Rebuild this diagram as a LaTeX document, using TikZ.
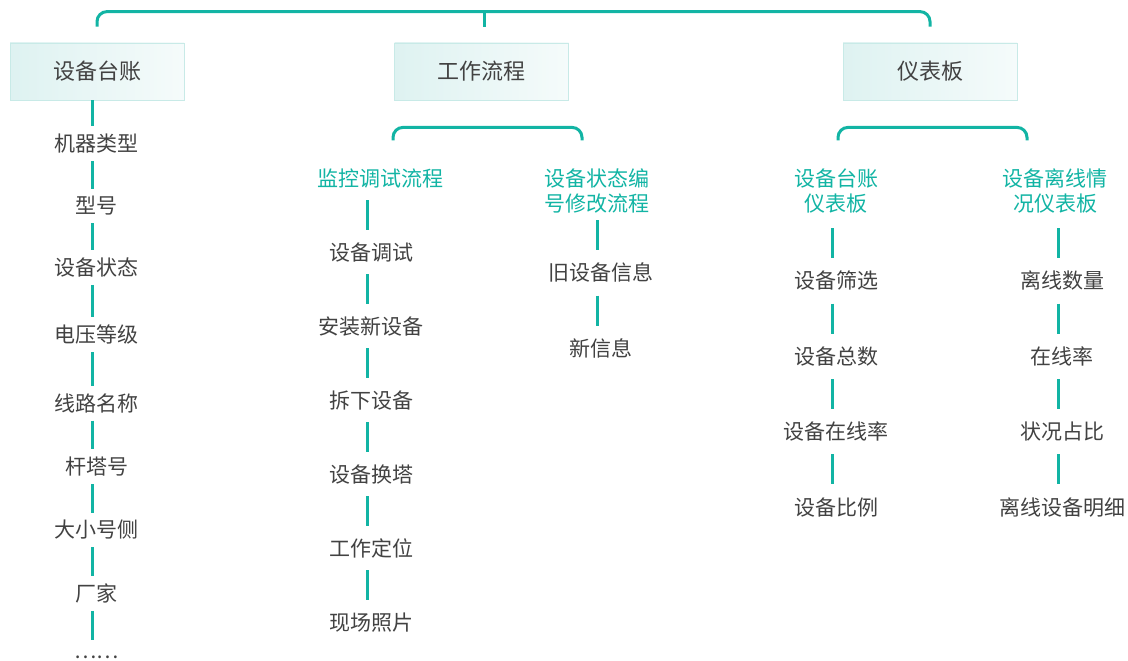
\documentclass[tikz,border=0pt]{standalone}
\usepackage{fontspec}
\setmainfont{Noto Sans CJK SC}
\usetikzlibrary{positioning}
\definecolor{linkteal}{RGB}{18,180,164}
\definecolor{boxfill}{RGB}{222,242,241}
\definecolor{boxline}{RGB}{200,234,231}
\definecolor{inkgray}{RGB}{66,66,66}

\begin{document}
\begin{tikzpicture}[x=1pt, y=1pt, node distance=30pt]
      \tikzstyle{groupbox}=[rectangle,draw=boxline,line width=0.8pt,left color=boxfill,right color=boxfill!30,minimum width=174pt,minimum height=57pt,text=inkgray,font=\fontsize{22}{26}\selectfont]
      \tikzstyle{subhead}=[align=center,inner sep=0pt,text=linkteal,font=\fontsize{21}{25}\selectfont]
      \tikzstyle{leafA}=[inner sep=0pt,minimum height=34.4pt,text=inkgray,font=\fontsize{21}{25}\selectfont]
      \tikzstyle{leafB}=[leafA,minimum height=43.6pt]
      \tikzstyle{leafC}=[leafA,minimum height=45pt]
      \tikzstyle{link}=[draw=linkteal,line width=3pt]
      \tikzstyle{stemline}=[link,transform canvas={xshift=-4pt}]

      \useasboundingbox (0,0) rectangle (1128,-661);

      % top level
      \node[groupbox] (ledger) at (97,-71.5) {设备台账};
      \node[groupbox] (flow) at (481.5,-71.5) {工作流程};
      \node[groupbox] (dash) at (930,-71.5) {仪表板};

      % second level headers
      \node[subhead,minimum height=44pt] (monitor) at (380,-178) {监控调试流程};
      \node[subhead,minimum height=59pt] (renum) at (597,-190.5) {设备状态编\\号修改流程};
      \node[subhead,minimum height=74pt] (ledgerpanel) at (836,-191) {设备台账\\仪表板};
      \node[subhead,minimum height=74pt] (offline) at (1055,-191) {设备离线情\\况仪表板};

      % ledger fields
      \node[leafA,below=25.8pt of ledger,xshift=-0.5pt] (k1) {机器类型};
      \node[leafA,below=27.6pt of k1] (k2) {型号};
      \node[leafA,below=26.6pt of k2] (k3) {设备状态};
      \node[leafA,below=32.6pt of k3] (k4) {电压等级};
      \node[leafA,below=33.6pt of k4] (k5) {线路名称};
      \node[leafA,below=28.6pt of k5] (k6) {杆塔号};
      \node[leafA,below=28.6pt of k6] (k7) {大小号侧};
      \node[leafA,below=28.6pt of k7] (k8) {厂家};
      \node[leafA,below=29.6pt of k8] (k9) {……};

      % monitoring flow
      \node[leafB,below=of monitor,xshift=-9pt] (w1) {设备调试};
      \node[leafB,below=of w1] (w2) {安装新设备};
      \node[leafB,below=of w2] (w3) {拆下设备};
      \node[leafB,below=of w3] (w4) {设备换塔};
      \node[leafB,below=of w4] (w5) {工作定位};
      \node[leafB,below=of w5] (w6) {现场照片};

      % renumbering flow
      \node[leafC,below=of renum,xshift=4pt] (c1) {旧设备信息};
      \node[leafC,below=of c1] (c2) {新信息};

      % ledger panel
      \node[leafC,below=of ledgerpanel] (p1) {设备筛选};
      \node[leafC,below=of p1] (p2) {设备总数};
      \node[leafC,below=of p2] (p3) {设备在线率};
      \node[leafC,below=of p3] (p4) {设备比例};

      % offline panel
      \node[leafC,below=of offline,xshift=7pt] (o1) {离线数量};
      \node[leafC,below=of o1] (o2) {在线率};
      \node[leafC,below=of o2] (o3) {状况占比};
      \node[leafC,below=of o3] (o4) {离线设备明细};

      % brackets
      \draw[link,rounded corners=10pt] ([yshift=16pt]ledger.north) |- ([yshift=31pt]flow.north) -| ([yshift=16pt]dash.north);
      \draw[link] ([xshift=2.5pt,yshift=16pt]flow.north) -- ([xshift=2.5pt,yshift=31pt]flow.north);
      \draw[link,rounded corners=10pt] ([xshift=-88.5pt,yshift=-40pt]flow.south) |- ([yshift=-27pt]flow.south) -| ([xshift=100.5pt,yshift=-40pt]flow.south);
      \draw[link,rounded corners=10pt] ([xshift=-92pt,yshift=-40pt]dash.south) |- ([yshift=-27pt]dash.south) -| ([xshift=97pt,yshift=-40pt]dash.south);

      % stems
      \draw[stemline] (k1 |- ledger.south) -- (k1);
      \draw[stemline] (k1) -- (k2);
      \draw[stemline] (k2) -- (k3);
      \draw[stemline] (k3) -- (k4);
      \draw[stemline] (k4) -- (k5);
      \draw[stemline] (k5) -- (k6);
      \draw[stemline] (k6) -- (k7);
      \draw[stemline] (k7) -- (k8);
      \draw[stemline] (k8) -- (k9);
      \draw[stemline] (w1 |- monitor.south) -- (w1);
      \draw[stemline] (w1) -- (w2);
      \draw[stemline] (w2) -- (w3);
      \draw[stemline] (w3) -- (w4);
      \draw[stemline] (w4) -- (w5);
      \draw[stemline] (w5) -- (w6);
      \draw[stemline] (c1 |- renum.south) -- (c1);
      \draw[stemline] (c1) -- (c2);
      \draw[stemline] (p1 |- ledgerpanel.south) -- (p1);
      \draw[stemline] (p1) -- (p2);
      \draw[stemline] (p2) -- (p3);
      \draw[stemline] (p3) -- (p4);
      \draw[stemline] (o1 |- offline.south) -- (o1);
      \draw[stemline] (o1) -- (o2);
      \draw[stemline] (o2) -- (o3);
      \draw[stemline] (o3) -- (o4);
    \end{tikzpicture}
\end{document}
